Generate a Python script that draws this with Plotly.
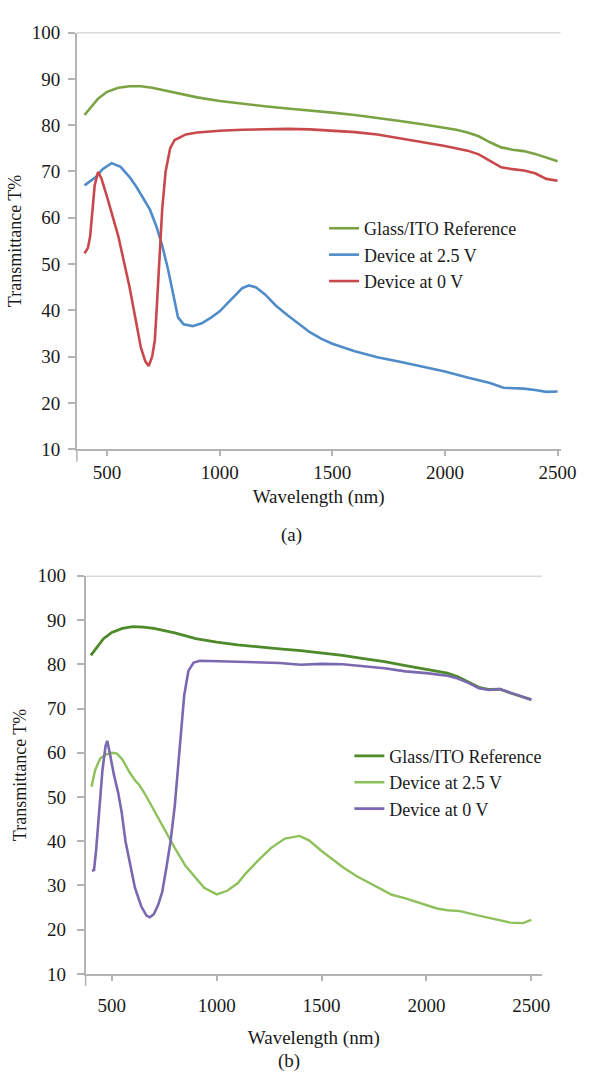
import plotly.graph_objects as go

# ---------------- data (a) ----------------
a_ref_wl = [400, 430, 460, 500, 550, 600, 650, 700, 750, 800, 850, 900, 1000, 1100, 1200, 1300, 1400, 1500,
            1600, 1700, 1800, 1900, 2000, 2050, 2100, 2150, 2200, 2250, 2300, 2350, 2400, 2450, 2500]
a_ref_T = [82.2, 84.0, 85.7, 87.2, 88.1, 88.4, 88.4, 88.1, 87.6, 87.1, 86.5, 86.0, 85.2, 84.6, 84.1, 83.6, 83.2, 82.7,
           82.2, 81.6, 80.9, 80.2, 79.4, 79.0, 78.4, 77.6, 76.3, 75.2, 74.7, 74.4, 73.8, 73.0, 72.2]

a_on_wl = [400, 450, 480, 520, 560, 600, 630, 660, 690, 720, 745, 770, 790, 815, 840, 880, 920, 960, 1000,
           1050, 1100, 1130, 1160, 1200, 1250, 1300, 1350, 1400, 1450, 1500, 1600, 1700, 1800, 1900, 2000,
           2100, 2200, 2260, 2300, 2350, 2400, 2450, 2500]
a_on_T = [67.0, 68.8, 70.5, 71.8, 71.0, 68.8, 66.7, 64.3, 61.8, 58.0, 54.0, 49.0, 44.5, 38.5, 37.0, 36.6, 37.2, 38.4, 39.8,
          42.2, 44.8, 45.4, 45.0, 43.5, 41.0, 39.0, 37.2, 35.3, 33.9, 32.8, 31.2, 29.9, 28.9, 27.9, 26.8,
          25.5, 24.3, 23.3, 23.2, 23.1, 22.8, 22.4, 22.5]

a_off_wl = [400, 415, 425, 435, 445, 460, 475, 500, 525, 550, 575, 600, 625, 650, 670, 685, 700, 712, 720, 730,
            745, 760, 780, 800, 850, 900, 1000, 1100, 1200, 1300, 1400, 1500, 1600, 1700, 1800, 1900, 2000,
            2100, 2150, 2200, 2250, 2300, 2350, 2400, 2450, 2500]
a_off_T = [52.3, 53.5, 56.0, 62.0, 67.0, 69.9, 68.5, 64.5, 60.5, 56.0, 50.5, 45.0, 38.5, 32.0, 29.0, 28.0, 30.0, 33.5, 40.0, 50.0,
           62.0, 70.0, 75.0, 76.8, 78.0, 78.4, 78.8, 79.0, 79.1, 79.2, 79.1, 78.8, 78.5, 78.0, 77.2, 76.3, 75.5,
           74.5, 73.7, 72.3, 70.9, 70.5, 70.2, 69.6, 68.4, 68.0]

# ---------------- data (b) ----------------
b_ref_wl = [400, 430, 460, 500, 550, 600, 650, 700, 800, 900, 1000, 1100, 1200, 1300, 1400, 1500, 1600, 1700,
            1800, 1900, 2000, 2100, 2150, 2200, 2250, 2300, 2350, 2400, 2450, 2500]
b_ref_T = [82.0, 84.0, 85.8, 87.2, 88.1, 88.5, 88.4, 88.1, 87.1, 85.8, 85.0, 84.4, 83.9, 83.5, 83.1, 82.6, 82.0, 81.3,
           80.6, 79.7, 78.9, 78.0, 77.2, 76.0, 74.8, 74.3, 74.4, 73.5, 72.8, 72.0]

b_on_wl = [403, 420, 444, 470, 500, 525, 550, 583, 610, 630, 660, 695, 730, 770, 800, 850, 894, 940, 1000,
           1050, 1100, 1140, 1200, 1260, 1325, 1395, 1440, 1497, 1550, 1600, 1668, 1750, 1835, 1900, 2000,
           2050, 2100, 2160, 2250, 2345, 2400, 2460, 2500]
b_on_T = [52.3, 56.0, 58.7, 59.6, 60.0, 59.8, 58.5, 55.7, 53.8, 52.8, 50.5, 47.5, 44.5, 41.0, 38.5, 34.5, 32.0, 29.5, 28.0,
          28.8, 30.5, 32.8, 35.8, 38.5, 40.6, 41.2, 40.2, 37.9, 36.0, 34.2, 32.1, 30.0, 27.9, 27.1, 25.6,
          24.8, 24.4, 24.2, 23.2, 22.2, 21.6, 21.5, 22.2]

b_off_wl = [405, 415, 425, 440, 455, 470, 478, 490, 510, 530, 546, 565, 583, 610, 640, 665, 681, 700, 720, 740,
            760, 780, 800, 815, 830, 845, 865, 890, 920, 1000, 1100, 1200, 1300, 1400, 1500, 1600, 1700, 1800,
            1900, 2000, 2100, 2150, 2200, 2250, 2300, 2350, 2400, 2450, 2500]
b_off_T = [33.3, 33.5, 38.0, 47.0, 56.0, 61.5, 62.7, 60.0, 55.0, 51.0, 46.8, 40.0, 35.7, 29.5, 25.3, 23.2, 22.8, 23.5, 25.5, 28.5,
           34.0, 40.0, 48.0, 57.0, 66.0, 73.0, 78.5, 80.4, 80.8, 80.7, 80.5, 80.5, 80.3, 79.9, 80.1, 80.0, 79.6, 79.1,
           78.4, 78.0, 77.4, 76.8, 75.8, 74.6, 74.2, 74.4, 73.6, 72.8, 72.0]

names = ["Glass/ITO Reference", "Device at 2.5 V", "Device at 0 V"]
x_ticks = [500, 1000, 1500, 2000, 2500]

FONT = "Liberation Serif"
AXC = "#b4b4b4"
TXT = "#1a1a1a"

fig = go.Figure()

fig.add_trace(go.Scatter(x=a_ref_wl, y=a_ref_T, name=names[0], mode="lines",
                         line=dict(color="#7ba344", width=2.6), xaxis="x", yaxis="y", legend="legend"))
fig.add_trace(go.Scatter(x=a_on_wl, y=a_on_T, name=names[1], mode="lines",
                         line=dict(color="#4f8cc9", width=2.6), xaxis="x", yaxis="y", legend="legend"))
fig.add_trace(go.Scatter(x=a_off_wl, y=a_off_T, name=names[2], mode="lines",
                         line=dict(color="#c9484c", width=2.6), xaxis="x", yaxis="y", legend="legend"))

fig.add_trace(go.Scatter(x=b_ref_wl, y=b_ref_T, name=names[0], mode="lines",
                         line=dict(color="#4d8a2a", width=2.8), xaxis="x2", yaxis="y2", legend="legend2"))
fig.add_trace(go.Scatter(x=b_on_wl, y=b_on_T, name=names[1], mode="lines",
                         line=dict(color="#8ec15c", width=2.4), xaxis="x2", yaxis="y2", legend="legend2"))
fig.add_trace(go.Scatter(x=b_off_wl, y=b_off_T, name=names[2], mode="lines",
                         line=dict(color="#7a68b0", width=2.6), xaxis="x2", yaxis="y2", legend="legend2"))

H = 1084.0
W = 595.0

def xax(dom, rng, label_standoff, title_standoff):
    return dict(domain=dom, range=rng, tickvals=x_ticks, showgrid=False, zeroline=False,
                showline=True, linecolor=AXC, linewidth=1.5, ticks="outside", ticklen=5,
                tickcolor=AXC, tickwidth=1.5, ticklabelstandoff=label_standoff,
                tickfont=dict(family=FONT, size=19, color=TXT),
                title=dict(text="Wavelength (nm)", font=dict(family=FONT, size=19, color=TXT),
                           standoff=title_standoff))

def yax(dom, anchor, label_standoff):
    return dict(domain=dom, range=[10, 100], dtick=10, anchor=anchor, showgrid=False, zeroline=False,
                showline=True, linecolor=AXC, linewidth=1.5, ticks="outside", ticklen=7,
                tickcolor=AXC, tickwidth=1.5, ticklabelstandoff=label_standoff,
                tickfont=dict(family=FONT, size=19, color=TXT),
                title=dict(text="Transmittance T%", font=dict(family=FONT, size=18, color=TXT), standoff=6))

fig.update_layout(
    width=595, height=1084,
    margin=dict(l=0, r=0, t=0, b=0),
    paper_bgcolor="white", plot_bgcolor="white",
    font=dict(family=FONT),
    xaxis=dict(xax([79 / W, 576 / W], [366, 2513], 0, 8), anchor="y"),
    yaxis=yax([1 - 448 / H, 1 - 23 / H], "x", 4),
    xaxis2=dict(xax([88 / W, 557 / W], [375, 2551], 8, 16), anchor="y2"),
    yaxis2=yax([1 - 983 / H, 1 - 577 / H], "x2", 7),
    legend=dict(x=333 / W, y=1 - 204 / H, xanchor="left", yanchor="top", bgcolor="rgba(0,0,0,0)",
                font=dict(family=FONT, size=18, color=TXT), tracegroupgap=0, itemwidth=30),
    legend2=dict(x=359 / W, y=1 - 742 / H, xanchor="left", yanchor="top", bgcolor="rgba(0,0,0,0)",
                 font=dict(family=FONT, size=18, color=TXT), tracegroupgap=0, itemwidth=30),
    showlegend=True,
)

# top border lines at 100 and the y-axis extension below the x-axis
for xa, ya in (("x", "y"), ("x2", "y2")):
    fig.add_shape(type="line", xref=f"{xa} domain", yref=ya, x0=0, x1=1, y0=100, y1=100,
                  line=dict(color=AXC, width=1.5))
    fig.add_shape(type="line", xref=f"{xa} domain", yref=f"{ya} domain", x0=0, x1=0, y0=-0.03, y1=0,
                  line=dict(color=AXC, width=1.5))

fig.add_annotation(text="(a)", x=300 / W, y=1 - 535 / H, xref="paper", yref="paper", showarrow=False,
                   xanchor="center", yanchor="middle", font=dict(family=FONT, size=19, color=TXT))
fig.add_annotation(text="(b)", x=297 / W, y=0, xref="paper", yref="paper", showarrow=False,
                   xanchor="center", yanchor="bottom", borderpad=0,
                   font=dict(family=FONT, size=19, color=TXT))

fig.write_html("out.html")
